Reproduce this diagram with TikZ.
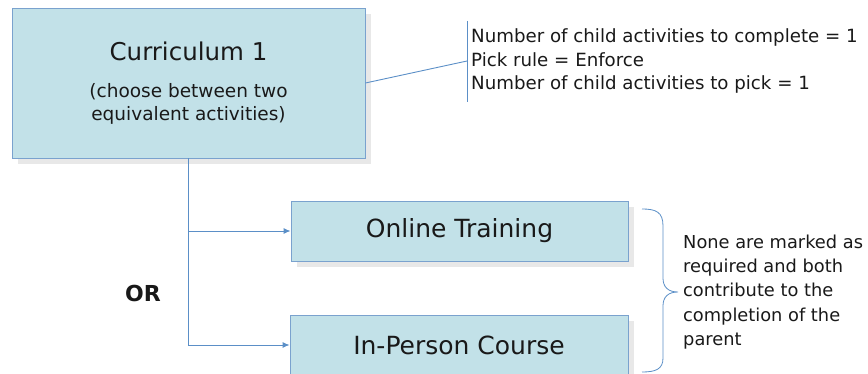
\documentclass[tikz,border=0pt]{standalone}
\usepackage{fontspec}
\setmainfont{DejaVu Sans}
\usetikzlibrary{arrows.meta,shadows}

\definecolor{boxfill}{RGB}{194,225,232}
\definecolor{boxline}{RGB}{122,162,206}
\definecolor{wire}{RGB}{91,143,199}
\definecolor{ink}{RGB}{25,25,25}

\tikzset{
  actbox/.style={draw=boxline, fill=boxfill, line width=0.9pt, text=ink,
    align=center, inner sep=0pt,
    drop shadow={shadow xshift=6pt, shadow yshift=-6pt, fill=black!9, opacity=1}},
  wireline/.style={draw=wire, line width=0.9pt},
  wirearrow/.style={wireline, -{Latex[length=7pt,width=6pt]}},
  notetext/.style={text=ink, align=left, font=\fontsize{17.8}{24.3}\selectfont}
}

\begin{document}
\begin{tikzpicture}[x=1pt, y=-1pt]
  \useasboundingbox (0,0) rectangle (868,374);
  \clip (0,0) rectangle (868,374);

  % parent activity
  \node[actbox, minimum width=353pt, minimum height=150pt,
        font=\fontsize{18.5}{23}\selectfont] (cur) at (188.5,83)
    {{\fontsize{24.5}{28}\selectfont Curriculum 1}\\[14pt]
     (choose between two\\equivalent activities)};

  % child activities
  \node[actbox, minimum width=337pt, minimum height=60pt,
        font=\fontsize{25}{29}\selectfont] (ot) at (459.5,231) {Online Training};
  \node[actbox, minimum width=338pt, minimum height=60pt,
        font=\fontsize{25}{29}\selectfont] (ip) at (459,345) {In-Person Course};

  % branching connectors
  \draw[wirearrow] (cur.south) |- (ot.west);
  \draw[wirearrow] (cur.south) |- (ip.west);

  \node[text=ink, font=\fontsize{22}{26}\selectfont\bfseries] (or) at (143,293) {OR};

  % rule settings with a bracket bar
  \node[notetext, anchor=west, inner xsep=4pt, inner ysep=0pt,
        font=\fontsize{18.2}{23.5}\selectfont] (rules) at (467,61)
    {Number of child activities to complete = 1\\
     Pick rule = Enforce\\
     Number of child activities to pick = 1};
  \draw[wireline] ([yshift=40pt]rules.west) -- ([yshift=-41pt]rules.west);
  \draw[wireline] (cur.east) -- (rules.west);

  % curly brace over the two children
  \coordinate (tip) at (678,292);
  \draw[wireline, line width=0.8pt]
    (642,209) .. controls (656,209) and (663,212) .. (663,226)
    -- (663,278) .. controls (663,287) and (668,292) .. (tip)
    .. controls (668,292) and (663,297) .. (663,306)
    -- (663,358) .. controls (663,369) and (656,372) .. (642,372);

  \node[notetext, anchor=west, inner sep=0pt] (note) at (683,292)
    {None are marked as\\required and both\\contribute to the\\completion of the\\parent};
\end{tikzpicture}
\end{document}
